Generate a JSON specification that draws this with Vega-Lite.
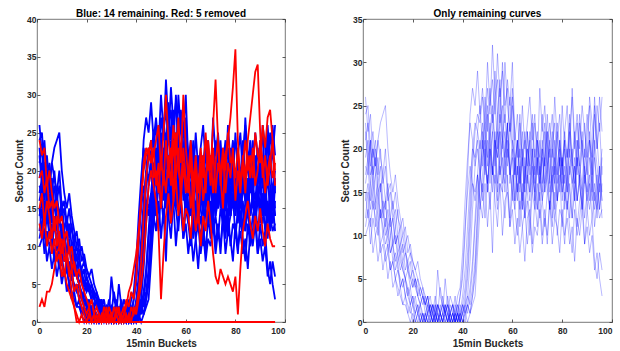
{
"$schema":"https://vega.github.io/schema/vega-lite/v6.json",
"padding":{"left":14,"top":8,"right":5,"bottom":0},
"bounds":"flush",
"spacing":78,
"datasets":{"d":[
{"x":1,"b1":26,"b2":24,"b3":23,"b4":21,"b5":19,"b6":18,"b7":16,"b8":15,"b9":14,"b10":12,"b11":11,"b12":10,"b13":17,"b14":22,"r1":2,"r2":24,"r3":19,"r4":15,"r5":13},
{"x":2,"b1":22,"b2":25,"b3":19,"b4":23,"b5":21,"b6":17,"b7":18,"b8":12,"b9":16,"b10":15,"b11":13,"b12":11,"b13":19,"b14":18,"r1":3,"r2":22,"r3":20,"r4":17,"r5":11},
{"x":3,"b1":24,"b2":20,"b3":21,"b4":18,"b5":17,"b6":20,"b7":14,"b8":16,"b9":13,"b10":11,"b11":9,"b12":12,"b13":16,"b14":21,"r1":2,"r2":23,"r3":17,"r4":13,"r5":14},
{"x":4,"b1":19,"b2":22,"b3":17,"b4":20,"b5":18,"b6":15,"b7":17,"b8":13,"b9":15,"b10":14,"b11":12,"b12":8,"b13":20,"b14":17,"r1":4,"r2":18,"r3":19,"r4":16,"r5":10},
{"x":5,"b1":21,"b2":18,"b3":20,"b4":17,"b5":14,"b6":17,"b7":13,"b8":14,"b9":11,"b10":12,"b11":10,"b12":10,"b13":18,"b14":19,"r1":4,"r2":20,"r3":15,"r4":14,"r5":12},
{"x":6,"b1":17,"b2":21,"b3":16,"b4":19,"b5":16,"b6":13,"b7":15,"b8":11,"b9":13,"b10":10,"b11":11,"b12":7,"b13":21,"b14":15,"r1":5,"r2":17,"r3":16,"r4":11,"r5":9},
{"x":7,"b1":20,"b2":19,"b3":18,"b4":15,"b5":12,"b6":16,"b7":12,"b8":13,"b9":9,"b10":13,"b11":8,"b12":9,"b13":23,"b14":16,"r1":7,"r2":15,"r3":12,"r4":14,"r5":11},
{"x":8,"b1":16,"b2":17,"b3":14,"b4":17,"b5":13,"b6":12,"b7":14,"b8":10,"b9":10,"b10":11,"b11":9,"b12":6,"b13":24,"b14":13,"r1":9,"r2":16,"r3":14,"r4":10,"r5":8},
{"x":9,"b1":18,"b2":20,"b3":13,"b4":14,"b5":10,"b6":14,"b7":11,"b8":12,"b9":8,"b10":9,"b11":7,"b12":8,"b13":25,"b14":14,"r1":10,"r2":13,"r3":10,"r4":12,"r5":9},
{"x":10,"b1":14,"b2":15,"b3":15,"b4":16,"b5":11,"b6":10,"b7":13,"b8":8,"b9":9,"b10":10,"b11":8,"b12":5,"b13":20,"b14":11,"r1":8,"r2":14,"r3":11,"r4":9,"r5":6},
{"x":11,"b1":15,"b2":16,"b3":11,"b4":12,"b5":8,"b6":12,"b7":10,"b8":10,"b9":6,"b10":8,"b11":6,"b12":7,"b13":17,"b14":12,"r1":6,"r2":11,"r3":8,"r4":11,"r5":7},
{"x":12,"b1":12,"b2":13,"b3":12,"b4":14,"b5":9,"b6":9,"b7":12,"b8":7,"b9":7,"b10":9,"b11":7,"b12":4,"b13":15,"b14":9,"r1":9,"r2":12,"r3":9,"r4":8,"r5":5},
{"x":13,"b1":13,"b2":15,"b3":9,"b4":11,"b5":6,"b6":11,"b7":9,"b8":8,"b9":5,"b10":7,"b11":5,"b12":5,"b13":17,"b14":10,"r1":7,"r2":9,"r3":6,"r4":10,"r5":4},
{"x":14,"b1":10,"b2":12,"b3":10,"b4":13,"b5":7,"b6":8,"b7":10,"b8":6,"b9":4,"b10":8,"b11":6,"b12":3,"b13":14,"b14":7,"r1":4,"r2":10,"r3":7,"r4":7,"r5":3},
{"x":15,"b1":11,"b2":11,"b3":7,"b4":9,"b5":4,"b6":9,"b7":8,"b8":5,"b9":3,"b10":6,"b11":4,"b12":4,"b13":12,"b14":8,"r1":2,"r2":7,"r3":4,"r4":8,"r5":2},
{"x":16,"b1":8,"b2":12,"b3":6,"b4":10,"b5":5,"b6":7,"b7":9,"b8":4,"b9":2,"b10":7,"b11":5,"b12":2,"b13":10,"b14":6,"r1":0,"r2":6,"r3":5,"r4":6,"r5":1},
{"x":17,"b1":9,"b2":9,"b3":5,"b4":8,"b5":3,"b6":8,"b7":6,"b8":5,"b9":2,"b10":5,"b11":3,"b12":3,"b13":11,"b14":5,"r1":0,"r2":5,"r3":3,"r4":7,"r5":0},
{"x":18,"b1":6,"b2":10,"b3":3,"b4":7,"b5":2,"b6":6,"b7":7,"b8":3,"b9":1,"b10":6,"b11":4,"b12":1,"b13":8,"b14":4,"r1":0,"r2":3,"r3":2,"r4":5,"r5":1},
{"x":19,"b1":7,"b2":8,"b3":4,"b4":8,"b5":1,"b6":5,"b7":5,"b8":2,"b9":0,"b10":4,"b11":2,"b12":2,"b13":9,"b14":3,"r1":0,"r2":2,"r3":1,"r4":4,"r5":0},
{"x":20,"b1":4,"b2":7,"b3":2,"b4":6,"b5":2,"b6":4,"b7":6,"b8":3,"b9":1,"b10":5,"b11":3,"b12":0,"b13":7,"b14":2,"r1":0,"r2":1,"r3":0,"r4":3,"r5":0},
{"x":21,"b1":5,"b2":6,"b3":1,"b4":5,"b5":0,"b6":5,"b7":4,"b8":1,"b9":0,"b10":4,"b11":2,"b12":1,"b13":6,"b14":3,"r1":0,"r2":2,"r3":1,"r4":2,"r5":1},
{"x":22,"b1":3,"b2":7,"b3":2,"b4":4,"b5":1,"b6":3,"b7":5,"b8":2,"b9":1,"b10":3,"b11":1,"b12":0,"b13":5,"b14":1,"r1":0,"r2":0,"r3":0,"r4":3,"r5":0},
{"x":23,"b1":2,"b2":5,"b3":0,"b4":3,"b5":0,"b6":2,"b7":3,"b8":1,"b9":0,"b10":4,"b11":2,"b12":1,"b13":4,"b14":2,"r1":0,"r2":1,"r3":1,"r4":1,"r5":0},
{"x":24,"b1":3,"b2":4,"b3":1,"b4":2,"b5":1,"b6":3,"b7":4,"b8":0,"b9":1,"b10":3,"b11":0,"b12":0,"b13":3,"b14":1,"r1":0,"r2":0,"r3":0,"r4":2,"r5":1},
{"x":25,"b1":1,"b2":3,"b3":0,"b4":3,"b5":0,"b6":2,"b7":2,"b8":1,"b9":0,"b10":2,"b11":1,"b12":1,"b13":2,"b14":0,"r1":0,"r2":1,"r3":0,"r4":1,"r5":0},
{"x":26,"b1":2,"b2":2,"b3":1,"b4":1,"b5":2,"b6":1,"b7":3,"b8":0,"b9":1,"b10":3,"b11":0,"b12":0,"b13":3,"b14":1,"r1":0,"r2":0,"r3":1,"r4":0,"r5":0},
{"x":27,"b1":1,"b2":3,"b3":0,"b4":2,"b5":1,"b6":2,"b7":1,"b8":1,"b9":0,"b10":1,"b11":1,"b12":0,"b13":1,"b14":2,"r1":0,"r2":1,"r3":0,"r4":1,"r5":2},
{"x":28,"b1":0,"b2":1,"b3":1,"b4":1,"b5":0,"b6":1,"b7":2,"b8":0,"b9":2,"b10":2,"b11":0,"b12":1,"b13":2,"b14":0,"r1":0,"r2":0,"r3":2,"r4":0,"r5":1},
{"x":29,"b1":2,"b2":2,"b3":0,"b4":3,"b5":1,"b6":0,"b7":1,"b8":1,"b9":0,"b10":1,"b11":1,"b12":0,"b13":1,"b14":1,"r1":0,"r2":2,"r3":0,"r4":1,"r5":0},
{"x":30,"b1":1,"b2":0,"b3":2,"b4":1,"b5":0,"b6":2,"b7":6,"b8":0,"b9":1,"b10":2,"b11":0,"b12":1,"b13":2,"b14":0,"r1":0,"r2":1,"r3":1,"r4":0,"r5":1},
{"x":31,"b1":0,"b2":1,"b3":1,"b4":4,"b5":1,"b6":1,"b7":3,"b8":2,"b9":0,"b10":1,"b11":1,"b12":0,"b13":1,"b14":1,"r1":0,"r2":0,"r3":0,"r4":2,"r5":0},
{"x":32,"b1":1,"b2":2,"b3":0,"b4":2,"b5":0,"b6":0,"b7":2,"b8":1,"b9":1,"b10":0,"b11":3,"b12":1,"b13":0,"b14":2,"r1":0,"r2":1,"r3":1,"r4":1,"r5":2},
{"x":33,"b1":2,"b2":1,"b3":1,"b4":1,"b5":1,"b6":2,"b7":1,"b8":0,"b9":5,"b10":1,"b11":1,"b12":0,"b13":2,"b14":1,"r1":0,"r2":2,"r3":0,"r4":0,"r5":1},
{"x":34,"b1":0,"b2":3,"b3":0,"b4":2,"b5":0,"b6":1,"b7":2,"b8":1,"b9":2,"b10":0,"b11":2,"b12":1,"b13":1,"b14":0,"r1":0,"r2":0,"r3":1,"r4":1,"r5":0},
{"x":35,"b1":1,"b2":1,"b3":2,"b4":0,"b5":1,"b6":0,"b7":1,"b8":0,"b9":1,"b10":1,"b11":0,"b12":0,"b13":3,"b14":1,"r1":0,"r2":1,"r3":0,"r4":2,"r5":1},
{"x":36,"b1":2,"b2":0,"b3":1,"b4":1,"b5":0,"b6":1,"b7":2,"b8":1,"b9":0,"b10":2,"b11":1,"b12":0,"b13":2,"b14":0,"r1":0,"r2":3,"r3":1,"r4":0,"r5":2},
{"x":37,"b1":0,"b2":2,"b3":0,"b4":3,"b5":1,"b6":0,"b7":1,"b8":0,"b9":1,"b10":0,"b11":0,"b12":1,"b13":1,"b14":1,"r1":0,"r2":2,"r3":0,"r4":1,"r5":4},
{"x":38,"b1":1,"b2":1,"b3":1,"b4":0,"b5":2,"b6":1,"b7":0,"b8":2,"b9":0,"b10":1,"b11":1,"b12":0,"b13":3,"b14":0,"r1":0,"r2":4,"r3":2,"r4":0,"r5":5},
{"x":39,"b1":3,"b2":0,"b3":0,"b4":1,"b5":1,"b6":0,"b7":2,"b8":0,"b9":1,"b10":3,"b11":0,"b12":1,"b13":4,"b14":1,"r1":0,"r2":3,"r3":1,"r4":2,"r5":7},
{"x":40,"b1":5,"b2":2,"b3":1,"b4":2,"b5":3,"b6":1,"b7":1,"b8":1,"b9":0,"b10":6,"b11":2,"b12":0,"b13":8,"b14":0,"r1":0,"r2":6,"r3":2,"r4":1,"r5":9},
{"x":41,"b1":10,"b2":4,"b3":2,"b4":1,"b5":6,"b6":0,"b7":3,"b8":2,"b9":1,"b10":11,"b11":1,"b12":2,"b13":14,"b14":1,"r1":0,"r2":11,"r3":4,"r4":3,"r5":12},
{"x":42,"b1":17,"b2":8,"b3":3,"b4":2,"b5":11,"b6":2,"b7":6,"b8":1,"b9":0,"b10":15,"b11":3,"b12":5,"b13":19,"b14":2,"r1":0,"r2":16,"r3":8,"r4":5,"r5":16},
{"x":43,"b1":24,"b2":14,"b3":7,"b4":4,"b5":16,"b6":1,"b7":12,"b8":3,"b9":1,"b10":18,"b11":2,"b12":10,"b13":23,"b14":1,"r1":0,"r2":21,"r3":14,"r4":8,"r5":20},
{"x":44,"b1":27,"b2":20,"b3":13,"b4":7,"b5":20,"b6":3,"b7":18,"b8":6,"b9":2,"b10":16,"b11":4,"b12":16,"b13":21,"b14":3,"r1":0,"r2":23,"r3":19,"r4":13,"r5":22},
{"x":45,"b1":25,"b2":23,"b3":18,"b4":12,"b5":19,"b6":6,"b7":22,"b8":11,"b9":3,"b10":14,"b11":7,"b12":15,"b13":18,"b14":5,"r1":0,"r2":22,"r3":22,"r4":18,"r5":23},
{"x":46,"b1":29,"b2":22,"b3":22,"b4":17,"b5":21,"b6":12,"b7":24,"b8":15,"b9":8,"b10":17,"b11":13,"b12":17,"b13":20,"b14":10,"r1":0,"r2":24,"r3":21,"r4":20,"r5":21},
{"x":47,"b1":24,"b2":25,"b3":20,"b4":21,"b5":18,"b6":17,"b7":23,"b8":18,"b9":13,"b10":13,"b11":17,"b12":14,"b13":17,"b14":16,"r1":0,"r2":19,"r3":23,"r4":18,"r5":22},
{"x":48,"b1":27,"b2":20,"b3":23,"b4":18,"b5":22,"b6":19,"b7":26,"b8":14,"b9":17,"b10":16,"b11":20,"b12":12,"b13":15,"b14":21,"r1":0,"r2":20,"r3":18,"r4":16,"r5":24},
{"x":49,"b1":23,"b2":26,"b3":19,"b4":22,"b5":17,"b6":21,"b7":22,"b8":18,"b9":20,"b10":12,"b11":23,"b12":16,"b13":19,"b14":18,"r1":0,"r2":17,"r3":21,"r4":12,"r5":26},
{"x":50,"b1":30,"b2":22,"b3":25,"b4":19,"b5":21,"b6":15,"b7":27,"b8":16,"b9":15,"b10":17,"b11":18,"b12":11,"b13":16,"b14":24,"r1":0,"r2":22,"r3":15,"r4":3,"r5":20},
{"x":51,"b1":25,"b2":27,"b3":21,"b4":23,"b5":16,"b6":20,"b7":24,"b8":19,"b9":21,"b10":13,"b11":22,"b12":15,"b13":20,"b14":19,"r1":0,"r2":18,"r3":20,"r4":9,"r5":25},
{"x":52,"b1":28,"b2":23,"b3":24,"b4":17,"b5":22,"b6":17,"b7":32,"b8":15,"b9":18,"b10":18,"b11":25,"b12":8,"b13":17,"b14":22,"r1":0,"r2":24,"r3":17,"r4":14,"r5":30},
{"x":53,"b1":24,"b2":29,"b3":20,"b4":21,"b5":18,"b6":22,"b7":26,"b8":20,"b9":16,"b10":14,"b11":21,"b12":17,"b13":21,"b14":26,"r1":0,"r2":19,"r3":22,"r4":17,"r5":24},
{"x":54,"b1":31,"b2":24,"b3":22,"b4":19,"b5":24,"b6":16,"b7":28,"b8":14,"b9":22,"b10":11,"b11":19,"b12":13,"b13":15,"b14":20,"r1":0,"r2":23,"r3":18,"r4":13,"r5":21},
{"x":55,"b1":26,"b2":28,"b3":27,"b4":22,"b5":17,"b6":19,"b7":23,"b8":18,"b9":17,"b10":16,"b11":24,"b12":16,"b13":22,"b14":23,"r1":0,"r2":16,"r3":24,"r4":16,"r5":26},
{"x":56,"b1":29,"b2":21,"b3":21,"b4":16,"b5":21,"b6":21,"b7":30,"b8":15,"b9":19,"b10":15,"b11":20,"b12":10,"b13":18,"b14":25,"r1":0,"r2":25,"r3":19,"r4":19,"r5":22},
{"x":57,"b1":23,"b2":30,"b3":24,"b4":20,"b5":19,"b6":17,"b7":25,"b8":19,"b9":15,"b10":12,"b11":22,"b12":14,"b13":16,"b14":19,"r1":0,"r2":20,"r3":23,"r4":14,"r5":27},
{"x":58,"b1":28,"b2":25,"b3":19,"b4":23,"b5":23,"b6":23,"b7":27,"b8":16,"b9":20,"b10":17,"b11":18,"b12":15,"b13":21,"b14":22,"r1":0,"r2":18,"r3":16,"r4":17,"r5":21},
{"x":59,"b1":25,"b2":22,"b3":23,"b4":17,"b5":16,"b6":18,"b7":22,"b8":12,"b9":18,"b10":11,"b11":21,"b12":11,"b13":17,"b14":26,"r1":0,"r2":23,"r3":21,"r4":12,"r5":30},
{"x":60,"b1":30,"b2":27,"b3":20,"b4":21,"b5":20,"b6":15,"b7":26,"b8":17,"b9":14,"b10":15,"b11":25,"b12":13,"b13":19,"b14":21,"r1":0,"r2":19,"r3":17,"r4":15,"r5":23},
{"x":61,"b1":21,"b2":20,"b3":17,"b4":19,"b5":14,"b6":18,"b7":22,"b8":13,"b9":19,"b10":13,"b11":17,"b12":9,"b13":14,"b14":18,"r1":0,"r2":17,"r3":20,"r4":14,"r5":19},
{"x":62,"b1":24,"b2":17,"b3":21,"b4":15,"b5":18,"b6":14,"b7":19,"b8":16,"b9":15,"b10":10,"b11":21,"b12":12,"b13":18,"b14":21,"r1":0,"r2":22,"r3":15,"r4":11,"r5":24},
{"x":63,"b1":19,"b2":23,"b3":16,"b4":20,"b5":15,"b6":17,"b7":24,"b8":11,"b9":18,"b10":14,"b11":16,"b12":8,"b13":13,"b14":17,"r1":0,"r2":15,"r3":18,"r4":16,"r5":18},
{"x":64,"b1":25,"b2":19,"b3":20,"b4":14,"b5":19,"b6":13,"b7":18,"b8":15,"b9":13,"b10":11,"b11":19,"b12":11,"b13":16,"b14":22,"r1":0,"r2":20,"r3":21,"r4":12,"r5":22},
{"x":65,"b1":20,"b2":22,"b3":15,"b4":18,"b5":13,"b6":19,"b7":21,"b8":12,"b9":17,"b10":7,"b11":15,"b12":13,"b13":12,"b14":16,"r1":0,"r2":17,"r3":13,"r4":15,"r5":17},
{"x":66,"b1":23,"b2":18,"b3":22,"b4":16,"b5":17,"b6":15,"b7":17,"b8":14,"b9":20,"b10":12,"b11":22,"b12":9,"b13":17,"b14":20,"r1":0,"r2":21,"r3":19,"r4":10,"r5":23},
{"x":67,"b1":26,"b2":21,"b3":18,"b4":21,"b5":15,"b6":12,"b7":22,"b8":10,"b9":15,"b10":13,"b11":17,"b12":12,"b13":14,"b14":18,"r1":0,"r2":16,"r3":22,"r4":14,"r5":19},
{"x":68,"b1":21,"b2":24,"b3":15,"b4":17,"b5":20,"b6":16,"b7":19,"b8":15,"b9":18,"b10":9,"b11":20,"b12":8,"b13":19,"b14":23,"r1":0,"r2":19,"r3":17,"r4":12,"r5":25},
{"x":69,"b1":24,"b2":19,"b3":20,"b4":15,"b5":14,"b6":18,"b7":23,"b8":13,"b9":14,"b10":14,"b11":16,"b12":11,"b13":15,"b14":17,"r1":0,"r2":22,"r3":24,"r4":16,"r5":20},
{"x":70,"b1":18,"b2":22,"b3":17,"b4":19,"b5":18,"b6":13,"b7":20,"b8":16,"b9":19,"b10":11,"b11":21,"b12":10,"b13":13,"b14":21,"r1":0,"r2":18,"r3":20,"r4":13,"r5":22},
{"x":71,"b1":27,"b2":17,"b3":21,"b4":14,"b5":16,"b6":17,"b7":17,"b8":12,"b9":16,"b10":15,"b11":18,"b12":13,"b13":18,"b14":19,"r1":0,"r2":23,"r3":26,"r4":9,"r5":17},
{"x":72,"b1":22,"b2":20,"b3":16,"b4":20,"b5":19,"b6":14,"b7":21,"b8":14,"b9":20,"b10":10,"b11":15,"b12":9,"b13":14,"b14":24,"r1":0,"r2":17,"r3":32,"r4":6,"r5":21},
{"x":73,"b1":25,"b2":23,"b3":19,"b4":16,"b5":15,"b6":19,"b7":18,"b8":11,"b9":15,"b10":13,"b11":22,"b12":12,"b13":16,"b14":18,"r1":0,"r2":21,"r3":24,"r4":5,"r5":24},
{"x":74,"b1":20,"b2":18,"b3":22,"b4":18,"b5":17,"b6":15,"b7":24,"b8":15,"b9":18,"b10":9,"b11":17,"b12":10,"b13":20,"b14":22,"r1":0,"r2":19,"r3":18,"r4":7,"r5":19},
{"x":75,"b1":23,"b2":21,"b3":17,"b4":21,"b5":13,"b6":17,"b7":19,"b8":13,"b9":13,"b10":14,"b11":20,"b12":14,"b13":15,"b14":16,"r1":0,"r2":15,"r3":22,"r4":6,"r5":23},
{"x":76,"b1":19,"b2":24,"b3":20,"b4":15,"b5":18,"b6":12,"b7":22,"b8":16,"b9":17,"b10":11,"b11":16,"b12":9,"b13":17,"b14":20,"r1":0,"r2":22,"r3":17,"r4":5,"r5":20},
{"x":77,"b1":26,"b2":19,"b3":16,"b4":19,"b5":16,"b6":18,"b7":17,"b8":12,"b9":21,"b10":15,"b11":19,"b12":12,"b13":13,"b14":23,"r1":0,"r2":24,"r3":21,"r4":6,"r5":25},
{"x":78,"b1":21,"b2":22,"b3":21,"b4":17,"b5":14,"b6":14,"b7":23,"b8":14,"b9":16,"b10":10,"b11":14,"b12":11,"b13":18,"b14":18,"r1":0,"r2":27,"r3":19,"r4":5,"r5":21},
{"x":79,"b1":24,"b2":18,"b3":18,"b4":20,"b5":19,"b6":16,"b7":20,"b8":17,"b9":19,"b10":13,"b11":21,"b12":8,"b13":15,"b14":21,"r1":0,"r2":31,"r3":23,"r4":4,"r5":22},
{"x":80,"b1":18,"b2":25,"b3":15,"b4":16,"b5":15,"b6":19,"b7":18,"b8":11,"b9":14,"b10":12,"b11":18,"b12":13,"b13":19,"b14":17,"r1":0,"r2":36,"r3":16,"r4":6,"r5":19},
{"x":81,"b1":22,"b2":20,"b3":20,"b4":21,"b5":17,"b6":13,"b7":21,"b8":15,"b9":18,"b10":9,"b11":16,"b12":10,"b13":14,"b14":22,"r1":0,"r2":24,"r3":20,"r4":1,"r5":23},
{"x":82,"b1":25,"b2":17,"b3":17,"b4":15,"b5":13,"b6":17,"b7":19,"b8":13,"b9":15,"b10":14,"b11":20,"b12":12,"b13":17,"b14":19,"r1":0,"r2":18,"r3":17,"r4":7,"r5":18},
{"x":83,"b1":19,"b2":23,"b3":22,"b4":18,"b5":18,"b6":15,"b7":22,"b8":16,"b9":20,"b10":11,"b11":17,"b12":9,"b13":12,"b14":24,"r1":0,"r2":21,"r3":22,"r4":12,"r5":21},
{"x":84,"b1":27,"b2":19,"b3":18,"b4":20,"b5":16,"b6":12,"b7":26,"b8":12,"b9":16,"b10":8,"b11":19,"b12":11,"b13":16,"b14":18,"r1":0,"r2":17,"r3":19,"r4":14,"r5":24},
{"x":85,"b1":21,"b2":22,"b3":16,"b4":14,"b5":19,"b6":18,"b7":20,"b8":15,"b9":14,"b10":13,"b11":15,"b12":7,"b13":18,"b14":21,"r1":0,"r2":22,"r3":24,"r4":16,"r5":20},
{"x":86,"b1":24,"b2":18,"b3":21,"b4":19,"b5":14,"b6":14,"b7":23,"b8":11,"b9":19,"b10":10,"b11":21,"b12":12,"b13":14,"b14":17,"r1":0,"r2":19,"r3":27,"r4":13,"r5":22},
{"x":87,"b1":20,"b2":24,"b3":17,"b4":16,"b5":17,"b6":16,"b7":18,"b8":14,"b9":16,"b10":12,"b11":18,"b12":10,"b13":17,"b14":23,"r1":0,"r2":23,"r3":30,"r4":11,"r5":19},
{"x":88,"b1":25,"b2":20,"b3":20,"b4":21,"b5":15,"b6":13,"b7":22,"b8":16,"b9":13,"b10":15,"b11":16,"b12":13,"b13":13,"b14":20,"r1":0,"r2":18,"r3":33,"r4":14,"r5":25},
{"x":89,"b1":22,"b2":23,"b3":16,"b4":17,"b5":18,"b6":17,"b7":19,"b8":12,"b9":18,"b10":9,"b11":20,"b12":9,"b13":16,"b14":18,"r1":0,"r2":20,"r3":34,"r4":12,"r5":22},
{"x":90,"b1":19,"b2":18,"b3":19,"b4":15,"b5":13,"b6":14,"b7":24,"b8":15,"b9":15,"b10":13,"b11":17,"b12":11,"b13":18,"b14":22,"r1":0,"r2":24,"r3":25,"r4":15,"r5":21},
{"x":91,"b1":26,"b2":21,"b3":22,"b4":19,"b5":16,"b6":16,"b7":21,"b8":13,"b9":17,"b10":10,"b11":21,"b12":8,"b13":14,"b14":25,"r1":0,"r2":21,"r3":19,"r4":12,"r5":26},
{"x":92,"b1":23,"b2":19,"b3":17,"b4":16,"b5":19,"b6":12,"b7":17,"b8":16,"b9":14,"b10":12,"b11":15,"b12":10,"b13":17,"b14":19,"r1":0,"r2":17,"r3":22,"r4":10,"r5":23},
{"x":93,"b1":20,"b2":24,"b3":21,"b4":20,"b5":14,"b6":15,"b7":25,"b8":11,"b9":16,"b10":7,"b11":19,"b12":6,"b13":13,"b14":26,"r1":0,"r2":20,"r3":18,"r4":13,"r5":27},
{"x":94,"b1":25,"b2":20,"b3":18,"b4":14,"b5":17,"b6":13,"b7":20,"b8":14,"b9":12,"b10":5,"b11":16,"b12":8,"b13":15,"b14":21,"r1":0,"r2":22,"r3":21,"r4":11,"r5":28},
{"x":95,"b1":22,"b2":23,"b3":15,"b4":18,"b5":13,"b6":16,"b7":26,"b8":12,"b9":17,"b10":8,"b11":13,"b12":5,"b13":18,"b14":17,"r1":0,"r2":19,"r3":24,"r4":10,"r5":24},
{"x":96,"b1":26,"b2":17,"b3":19,"b4":15,"b5":16,"b6":12,"b7":22,"b8":13,"b9":14,"b10":6,"b11":18,"b12":3,"b13":14,"b14":20,"r1":0,"r2":21,"r3":20,"r4":10,"r5":18}
]},
"hconcat":[
{"width":248,"height":303,"title":"Blue: 14 remaining. Red: 5 removed","data":{"name":"d"},
 "layer":[
  {"transform":[{"fold":["b1","b2","b3","b4","b5","b6","b7","b8","b9","b10","b11","b12","b13","b14"],"as":["k","v"]}],
   "mark":{"type":"line","color":"#0000ff","strokeWidth":1.8},
   "encoding":{
    "x":{"field":"x","type":"quantitative","scale":{"domain":[0,100],"nice":false},"axis":{"values":[0,20,40,60,80,100],"title":"15min Buckets"}},
    "y":{"field":"v","type":"quantitative","scale":{"domain":[0,40],"nice":false},"axis":{"values":[0,5,10,15,20,25,30,35,40],"title":"Sector Count"}},
    "detail":{"field":"k"}}},
  {"transform":[{"fold":["r1","r2","r3","r4","r5"],"as":["k","v"]}],
   "mark":{"type":"line","color":"#ff0000","strokeWidth":1.8},
   "encoding":{
    "x":{"field":"x","type":"quantitative","scale":{"domain":[0,100],"nice":false},"axis":{"orient":"top","values":[0,20,40,60,80,100],"labels":false,"title":null}},
    "y":{"field":"v","type":"quantitative","scale":{"domain":[0,40],"nice":false},"axis":{"orient":"right","values":[0,5,10,15,20,25,30,35,40],"labels":false,"title":null}},
    "detail":{"field":"k"}}}
 ],
 "resolve":{"axis":{"x":"independent","y":"independent"}}},
{"width":249,"height":303,"title":"Only remaining curves","data":{"name":"d"},
 "transform":[{"fold":["b1","b2","b3","b4","b5","b6","b7","b8","b9","b10","b11","b12","b13","b14"],"as":["k","v"]}],
 "layer":[
  {"mark":{"type":"line","color":"#0000ff","strokeWidth":0.4,"strokeOpacity":0.7},
   "encoding":{
    "x":{"field":"x","type":"quantitative","scale":{"domain":[0,100],"nice":false},"axis":{"values":[0,20,40,60,80,100],"title":"15min Buckets"}},
    "y":{"field":"v","type":"quantitative","scale":{"domain":[0,35],"nice":false},"axis":{"values":[0,5,10,15,20,25,30,35],"title":"Sector Count"}},
    "detail":{"field":"k"}}},
  {"mark":{"type":"line","strokeOpacity":0},
   "encoding":{
    "x":{"field":"x","type":"quantitative","scale":{"domain":[0,100],"nice":false},"axis":{"orient":"top","values":[0,20,40,60,80,100],"labels":false,"title":null}},
    "y":{"field":"v","type":"quantitative","scale":{"domain":[0,35],"nice":false},"axis":{"orient":"right","values":[0,5,10,15,20,25,30,35],"labels":false,"title":null}},
    "detail":{"field":"k"}}}
 ],
 "resolve":{"axis":{"x":"independent","y":"independent"}}}
],
"config":{
 "font":"Liberation Sans",
 "background":"#ffffff",
 "view":{"stroke":"#555555","strokeWidth":0.8},
 "axis":{"domain":false,"grid":false,"ticks":true,"tickSize":-3,"tickColor":"#333333","tickWidth":0.8,
  "labelFont":"Liberation Sans","labelFontWeight":"bold","labelFontSize":8.5,"labelColor":"#262626","labelPadding":4,
  "titleFont":"Liberation Sans","titleFontWeight":"bold","titleFontSize":10,"titleColor":"#262626","titlePadding":2},
 "axisX":{"labelPadding":7,"titlePadding":4},
 "title":{"font":"Liberation Sans","fontSize":10,"fontWeight":"bold","color":"#000000","offset":-4}
}
}
